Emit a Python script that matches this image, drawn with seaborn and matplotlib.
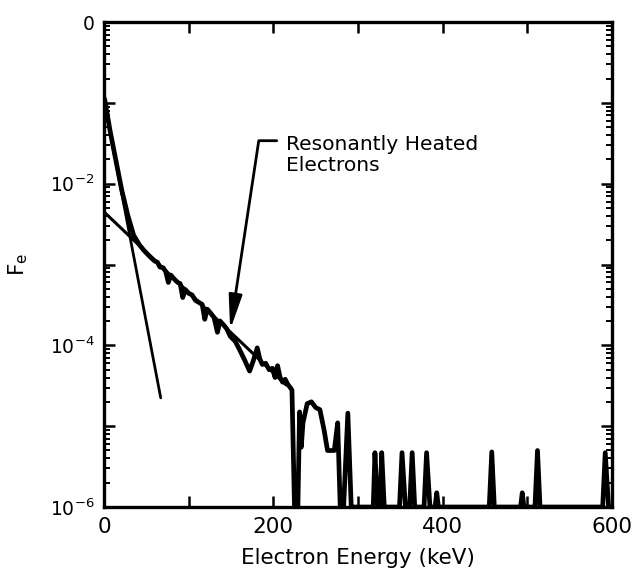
import numpy as np
import pandas as pd
import matplotlib
matplotlib.use("Agg")
import matplotlib.pyplot as plt
import matplotlib.ticker as mticker
import seaborn as sns

# measured electron distribution (keV, F_e); 1e-6 is the floor (no counts)
energy = [0, 1, 7, 14, 21, 28, 35, 42, 47, 52, 56, 60, 63, 66, 70, 73, 76, 79, 83,
          87, 90, 93, 96, 100, 104, 108, 112, 116, 119, 122, 126, 130, 134, 137, 141, 145,
          149, 155, 160, 166, 172, 176, 181, 184, 187, 191, 195, 199, 202, 205, 208, 211,
          214, 217, 220, 222, 225, 229, 231, 233, 235, 240, 245, 250, 255, 260, 264, 272,
          276, 279, 283, 288, 292, 318, 320, 323, 326, 328, 331, 349, 352, 356, 361, 364,
          367, 378, 381, 385, 391, 393, 395, 455, 458, 461, 492, 494, 496, 509, 512, 515,
          589, 592, 596, 600]
fe = [1.15e-1, 1.08e-1, 4.6e-2, 1.95e-2, 8.3e-3, 4.1e-3, 2.3e-3, 1.74e-3, 1.5e-3, 1.32e-3,
      1.2e-3, 1.10e-3, 1.07e-3, 9.3e-4, 9.1e-4, 8.1e-4, 6.0e-4, 7.4e-4, 6.6e-4,
      6.0e-4, 5.8e-4, 3.9e-4, 4.9e-4, 4.4e-4, 4.2e-4, 3.6e-4, 3.4e-4, 3.2e-4, 2.1e-4,
      2.8e-4, 2.5e-4, 2.2e-4, 1.45e-4, 2.0e-4, 1.8e-4, 1.6e-4, 1.3e-4, 1.12e-4, 8.9e-5,
      6.6e-5, 4.8e-5, 6.3e-5, 9.3e-5, 6.8e-5, 5.8e-5, 6.0e-5, 5.0e-5, 5.2e-5, 4.0e-5,
      5.6e-5, 4.0e-5, 3.5e-5, 3.8e-5, 3.3e-5, 3.0e-5, 2.8e-5, 1e-6, 1e-6, 1.5e-5,
      5.5e-6, 1.1e-5, 1.9e-5, 2.0e-5, 1.7e-5, 1.6e-5, 8.9e-6, 5.0e-6, 5.0e-6, 1.1e-5,
      1e-6, 1e-6, 1.45e-5, 1e-6, 1e-6, 4.7e-6, 1.1e-6, 1e-6, 4.7e-6, 1e-6,
      1e-6, 4.7e-6, 1e-6, 1e-6, 4.7e-6, 1e-6, 1e-6, 4.7e-6, 1e-6, 1e-6,
      1.5e-6, 1e-6, 1e-6, 4.8e-6, 1e-6, 1e-6, 1.5e-6, 1e-6, 1e-6, 5.0e-6,
      1e-6, 1e-6, 4.7e-6, 1e-6, 1e-6]

# thermal (steep) fit and resonant-tail fit, end points
thermal_x = [0, 67]
thermal_f = [1.07e-1, 2.24e-5]
tail_x = [0, 215]
tail_f = [4.47e-3, 3.24e-5]

xtick_vals = [0, 200, 400, 600]
xtick_labels = ["0", "200", "400", "600"]
ytick_vals = [1e-6, 1e-5, 1e-4, 1e-3, 1e-2, 1e-1, 1e0]
ytick_labels = [r"$10^{-6}$", "", r"$10^{-4}$", "", r"$10^{-2}$", "", "0"]

annot_text = "Resonantly Heated\nElectrons"

sns.set_style("ticks")
plt.rcParams["font.family"] = ["DejaVu Sans"]
for key in ["text.color", "axes.labelcolor", "xtick.color", "ytick.color", "axes.edgecolor"]:
    plt.rcParams[key] = "black"

fig = plt.figure(figsize=(6.32, 5.72), dpi=100)
ax = fig.add_axes([104 / 632, 1 - 507 / 572, 508 / 632, 485 / 572])

df = pd.DataFrame({"energy": energy, "fe": fe})
sns.lineplot(data=df, x="energy", y="fe", ax=ax, color="black", lw=3.4,
             estimator=None, sort=False, solid_joinstyle="round")
sns.lineplot(x=thermal_x, y=thermal_f, ax=ax, color="black", lw=2.0, estimator=None)
sns.lineplot(x=tail_x, y=tail_f, ax=ax, color="black", lw=2.2, estimator=None)

ax.set_yscale("log")
ax.set_xlim(0, 600)
ax.set_ylim(1e-6, 1)

ax.xaxis.set_major_locator(mticker.FixedLocator(xtick_vals))
ax.xaxis.set_major_formatter(mticker.FixedFormatter(xtick_labels))
ax.xaxis.set_minor_locator(mticker.FixedLocator([100, 300, 500]))
ax.yaxis.set_major_locator(mticker.FixedLocator(ytick_vals))
ax.yaxis.set_major_formatter(mticker.FixedFormatter(ytick_labels))
ax.yaxis.set_minor_locator(mticker.LogLocator(base=10, subs=np.arange(2, 10), numticks=20))
ax.yaxis.set_minor_formatter(mticker.NullFormatter())

ax.tick_params(which="both", direction="in", top=True, right=True, color="black", width=1.8)
ax.tick_params(axis="x", which="both", length=8, labelsize=15.5, pad=7)
ax.tick_params(axis="y", which="major", length=8, labelsize=13.5, pad=7)
ax.tick_params(axis="y", which="minor", length=4.5, width=1.4)
for sp in ax.spines.values():
    sp.set_linewidth(2.4)
    sp.set_color("black")

ax.set_xlabel("Electron Energy (keV)", fontsize=15.5, labelpad=8)
ax.set_ylabel(r"$\mathregular{F_e}$", fontsize=15.5, labelpad=14)

ax.annotate("", xy=(149, 1.55e-4), xytext=(204, 3.4e-2),
            arrowprops=dict(arrowstyle="-|>,head_length=1.3,head_width=0.25",
                            connectionstyle="angle,angleA=0,angleB=81.4,rad=0",
                            color="black", lw=2.0, shrinkA=0, shrinkB=0,
                            mutation_scale=16))
ax.text(215, 4.0e-2, annot_text, fontsize=14.6, ha="left", va="top", linespacing=1.12)

fig.savefig("out.png", dpi=100)
